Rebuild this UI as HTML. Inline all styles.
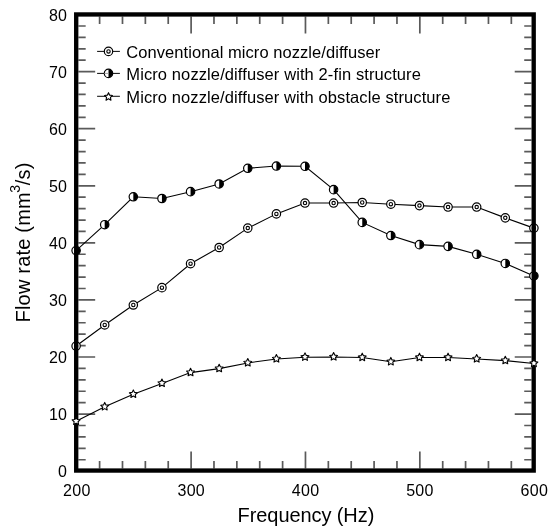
<!DOCTYPE html><html><head><meta charset="utf-8"><style>html,body{margin:0;padding:0;background:#fff;}svg{display:block;filter:grayscale(1);}text{font-family:"Liberation Sans",sans-serif;fill:#000;}</style></head><body>
<svg width="550" height="531" viewBox="0 0 550 531">
<rect width="550" height="531" fill="#fff"/>
<path d="M78.38,459.74h7.3 M531.53,459.74h-7.3 M78.38,448.32h7.3 M531.53,448.32h-7.3 M78.38,436.91h7.3 M531.53,436.91h-7.3 M78.38,425.49h7.3 M531.53,425.49h-7.3 M78.38,414.08h16.8 M531.53,414.08h-16.8 M78.38,402.66h7.3 M531.53,402.66h-7.3 M78.38,391.25h7.3 M531.53,391.25h-7.3 M78.38,379.83h7.3 M531.53,379.83h-7.3 M78.38,368.42h7.3 M531.53,368.42h-7.3 M78.38,357.00h16.8 M531.53,357.00h-16.8 M78.38,345.59h7.3 M531.53,345.59h-7.3 M78.38,334.17h7.3 M531.53,334.17h-7.3 M78.38,322.76h7.3 M531.53,322.76h-7.3 M78.38,311.35h7.3 M531.53,311.35h-7.3 M78.38,299.93h16.8 M531.53,299.93h-16.8 M78.38,288.52h7.3 M531.53,288.52h-7.3 M78.38,277.10h7.3 M531.53,277.10h-7.3 M78.38,265.69h7.3 M531.53,265.69h-7.3 M78.38,254.27h7.3 M531.53,254.27h-7.3 M78.38,242.86h16.8 M531.53,242.86h-16.8 M78.38,231.44h7.3 M531.53,231.44h-7.3 M78.38,220.03h7.3 M531.53,220.03h-7.3 M78.38,208.61h7.3 M531.53,208.61h-7.3 M78.38,197.20h7.3 M531.53,197.20h-7.3 M78.38,185.78h16.8 M531.53,185.78h-16.8 M78.38,174.37h7.3 M531.53,174.37h-7.3 M78.38,162.96h7.3 M531.53,162.96h-7.3 M78.38,151.54h7.3 M531.53,151.54h-7.3 M78.38,140.13h7.3 M531.53,140.13h-7.3 M78.38,128.71h16.8 M531.53,128.71h-16.8 M78.38,117.30h7.3 M531.53,117.30h-7.3 M78.38,105.88h7.3 M531.53,105.88h-7.3 M78.38,94.47h7.3 M531.53,94.47h-7.3 M78.38,83.05h7.3 M531.53,83.05h-7.3 M78.38,71.64h16.8 M531.53,71.64h-16.8 M78.38,60.22h7.3 M531.53,60.22h-7.3 M78.38,48.81h7.3 M531.53,48.81h-7.3 M78.38,37.40h7.3 M531.53,37.40h-7.3 M78.38,25.98h7.3 M531.53,25.98h-7.3 M99.61,468.38v-7.3 M99.61,16.62v7.3 M122.49,468.38v-7.3 M122.49,16.62v7.3 M145.36,468.38v-7.3 M145.36,16.62v7.3 M168.23,468.38v-7.3 M168.23,16.62v7.3 M191.11,468.38v-16.8 M191.11,16.62v16.8 M213.98,468.38v-7.3 M213.98,16.62v7.3 M236.85,468.38v-7.3 M236.85,16.62v7.3 M259.73,468.38v-7.3 M259.73,16.62v7.3 M282.60,468.38v-7.3 M282.60,16.62v7.3 M305.47,468.38v-16.8 M305.47,16.62v16.8 M328.35,468.38v-7.3 M328.35,16.62v7.3 M351.22,468.38v-7.3 M351.22,16.62v7.3 M374.09,468.38v-7.3 M374.09,16.62v7.3 M396.96,468.38v-7.3 M396.96,16.62v7.3 M419.84,468.38v-16.8 M419.84,16.62v16.8 M442.71,468.38v-7.3 M442.71,16.62v7.3 M465.58,468.38v-7.3 M465.58,16.62v7.3 M488.46,468.38v-7.3 M488.46,16.62v7.3 M511.33,468.38v-7.3 M511.33,16.62v7.3" stroke="#5a5a5a" stroke-width="1.7" fill="none"/>
<polyline points="76.10,346.03 104.71,324.95 133.32,305.02 161.94,287.64 190.55,263.72 219.16,247.49 247.78,228.12 276.39,213.88 305.00,203.06 333.61,203.06 362.23,202.49 390.84,204.20 419.45,205.62 448.06,207.04 476.68,207.04 505.29,217.87 533.90,228.12" fill="none" stroke="#000" stroke-width="1.1"/>
<polyline points="76.10,250.62 104.71,224.70 133.32,196.79 161.94,198.50 190.55,191.67 219.16,183.98 247.78,168.31 276.39,166.03 305.00,166.32 333.61,189.67 362.23,222.42 390.84,235.52 419.45,244.64 448.06,246.35 476.68,254.32 505.29,263.44 533.90,275.97" fill="none" stroke="#000" stroke-width="1.1"/>
<polyline points="76.10,421.30 104.71,406.77 133.32,394.24 161.94,383.42 190.55,372.60 219.16,368.61 247.78,362.92 276.39,358.93 305.00,357.22 333.61,356.93 362.23,357.50 390.84,361.78 419.45,357.50 448.06,357.50 476.68,358.93 505.29,360.64 533.90,363.48" fill="none" stroke="#000" stroke-width="1.1"/>
<circle cx="76.10" cy="346.03" r="4.2" fill="#fff" stroke="#000" stroke-width="1.2"/><circle cx="76.10" cy="346.03" r="1.7" fill="#fff" stroke="#000" stroke-width="1.1"/>
<circle cx="104.71" cy="324.95" r="4.2" fill="#fff" stroke="#000" stroke-width="1.2"/><circle cx="104.71" cy="324.95" r="1.7" fill="#fff" stroke="#000" stroke-width="1.1"/>
<circle cx="133.32" cy="305.02" r="4.2" fill="#fff" stroke="#000" stroke-width="1.2"/><circle cx="133.32" cy="305.02" r="1.7" fill="#fff" stroke="#000" stroke-width="1.1"/>
<circle cx="161.94" cy="287.64" r="4.2" fill="#fff" stroke="#000" stroke-width="1.2"/><circle cx="161.94" cy="287.64" r="1.7" fill="#fff" stroke="#000" stroke-width="1.1"/>
<circle cx="190.55" cy="263.72" r="4.2" fill="#fff" stroke="#000" stroke-width="1.2"/><circle cx="190.55" cy="263.72" r="1.7" fill="#fff" stroke="#000" stroke-width="1.1"/>
<circle cx="219.16" cy="247.49" r="4.2" fill="#fff" stroke="#000" stroke-width="1.2"/><circle cx="219.16" cy="247.49" r="1.7" fill="#fff" stroke="#000" stroke-width="1.1"/>
<circle cx="247.78" cy="228.12" r="4.2" fill="#fff" stroke="#000" stroke-width="1.2"/><circle cx="247.78" cy="228.12" r="1.7" fill="#fff" stroke="#000" stroke-width="1.1"/>
<circle cx="276.39" cy="213.88" r="4.2" fill="#fff" stroke="#000" stroke-width="1.2"/><circle cx="276.39" cy="213.88" r="1.7" fill="#fff" stroke="#000" stroke-width="1.1"/>
<circle cx="305.00" cy="203.06" r="4.2" fill="#fff" stroke="#000" stroke-width="1.2"/><circle cx="305.00" cy="203.06" r="1.7" fill="#fff" stroke="#000" stroke-width="1.1"/>
<circle cx="333.61" cy="203.06" r="4.2" fill="#fff" stroke="#000" stroke-width="1.2"/><circle cx="333.61" cy="203.06" r="1.7" fill="#fff" stroke="#000" stroke-width="1.1"/>
<circle cx="362.23" cy="202.49" r="4.2" fill="#fff" stroke="#000" stroke-width="1.2"/><circle cx="362.23" cy="202.49" r="1.7" fill="#fff" stroke="#000" stroke-width="1.1"/>
<circle cx="390.84" cy="204.20" r="4.2" fill="#fff" stroke="#000" stroke-width="1.2"/><circle cx="390.84" cy="204.20" r="1.7" fill="#fff" stroke="#000" stroke-width="1.1"/>
<circle cx="419.45" cy="205.62" r="4.2" fill="#fff" stroke="#000" stroke-width="1.2"/><circle cx="419.45" cy="205.62" r="1.7" fill="#fff" stroke="#000" stroke-width="1.1"/>
<circle cx="448.06" cy="207.04" r="4.2" fill="#fff" stroke="#000" stroke-width="1.2"/><circle cx="448.06" cy="207.04" r="1.7" fill="#fff" stroke="#000" stroke-width="1.1"/>
<circle cx="476.68" cy="207.04" r="4.2" fill="#fff" stroke="#000" stroke-width="1.2"/><circle cx="476.68" cy="207.04" r="1.7" fill="#fff" stroke="#000" stroke-width="1.1"/>
<circle cx="505.29" cy="217.87" r="4.2" fill="#fff" stroke="#000" stroke-width="1.2"/><circle cx="505.29" cy="217.87" r="1.7" fill="#fff" stroke="#000" stroke-width="1.1"/>
<circle cx="533.90" cy="228.12" r="4.2" fill="#fff" stroke="#000" stroke-width="1.2"/><circle cx="533.90" cy="228.12" r="1.7" fill="#fff" stroke="#000" stroke-width="1.1"/>
<circle cx="76.10" cy="250.62" r="4.2" fill="#fff" stroke="#000" stroke-width="1.2"/><path d="M76.10,246.42 A4.2,4.2 0 0 1 76.10,254.82 Z" fill="#000"/>
<circle cx="104.71" cy="224.70" r="4.2" fill="#fff" stroke="#000" stroke-width="1.2"/><path d="M104.71,220.50 A4.2,4.2 0 0 1 104.71,228.90 Z" fill="#000"/>
<circle cx="133.32" cy="196.79" r="4.2" fill="#fff" stroke="#000" stroke-width="1.2"/><path d="M133.32,192.59 A4.2,4.2 0 0 1 133.32,200.99 Z" fill="#000"/>
<circle cx="161.94" cy="198.50" r="4.2" fill="#fff" stroke="#000" stroke-width="1.2"/><path d="M161.94,194.30 A4.2,4.2 0 0 1 161.94,202.70 Z" fill="#000"/>
<circle cx="190.55" cy="191.67" r="4.2" fill="#fff" stroke="#000" stroke-width="1.2"/><path d="M190.55,187.47 A4.2,4.2 0 0 1 190.55,195.87 Z" fill="#000"/>
<circle cx="219.16" cy="183.98" r="4.2" fill="#fff" stroke="#000" stroke-width="1.2"/><path d="M219.16,179.78 A4.2,4.2 0 0 1 219.16,188.18 Z" fill="#000"/>
<circle cx="247.78" cy="168.31" r="4.2" fill="#fff" stroke="#000" stroke-width="1.2"/><path d="M247.78,164.11 A4.2,4.2 0 0 1 247.78,172.51 Z" fill="#000"/>
<circle cx="276.39" cy="166.03" r="4.2" fill="#fff" stroke="#000" stroke-width="1.2"/><path d="M276.39,161.83 A4.2,4.2 0 0 1 276.39,170.23 Z" fill="#000"/>
<circle cx="305.00" cy="166.32" r="4.2" fill="#fff" stroke="#000" stroke-width="1.2"/><path d="M305.00,162.12 A4.2,4.2 0 0 1 305.00,170.52 Z" fill="#000"/>
<circle cx="333.61" cy="189.67" r="4.2" fill="#fff" stroke="#000" stroke-width="1.2"/><path d="M333.61,185.47 A4.2,4.2 0 0 1 333.61,193.87 Z" fill="#000"/>
<circle cx="362.23" cy="222.42" r="4.2" fill="#fff" stroke="#000" stroke-width="1.2"/><path d="M362.23,218.22 A4.2,4.2 0 0 1 362.23,226.62 Z" fill="#000"/>
<circle cx="390.84" cy="235.52" r="4.2" fill="#fff" stroke="#000" stroke-width="1.2"/><path d="M390.84,231.32 A4.2,4.2 0 0 1 390.84,239.72 Z" fill="#000"/>
<circle cx="419.45" cy="244.64" r="4.2" fill="#fff" stroke="#000" stroke-width="1.2"/><path d="M419.45,240.44 A4.2,4.2 0 0 1 419.45,248.84 Z" fill="#000"/>
<circle cx="448.06" cy="246.35" r="4.2" fill="#fff" stroke="#000" stroke-width="1.2"/><path d="M448.06,242.15 A4.2,4.2 0 0 1 448.06,250.55 Z" fill="#000"/>
<circle cx="476.68" cy="254.32" r="4.2" fill="#fff" stroke="#000" stroke-width="1.2"/><path d="M476.68,250.12 A4.2,4.2 0 0 1 476.68,258.52 Z" fill="#000"/>
<circle cx="505.29" cy="263.44" r="4.2" fill="#fff" stroke="#000" stroke-width="1.2"/><path d="M505.29,259.24 A4.2,4.2 0 0 1 505.29,267.64 Z" fill="#000"/>
<circle cx="533.90" cy="275.97" r="4.2" fill="#fff" stroke="#000" stroke-width="1.2"/><path d="M533.90,271.77 A4.2,4.2 0 0 1 533.90,280.17 Z" fill="#000"/>
<rect x="76.20" y="14.45" width="457.50" height="456.10" fill="none" stroke="#000" stroke-width="4.35"/>
<polygon points="76.10,416.95 77.30,419.44 80.05,419.82 78.05,421.73 78.54,424.46 76.10,423.15 73.66,424.46 74.15,421.73 72.15,419.82 74.90,419.44" fill="#fff" stroke="#000" stroke-width="1.1" stroke-linejoin="round"/>
<polygon points="104.71,402.42 105.92,404.92 108.66,405.29 106.66,407.21 107.15,409.93 104.71,408.62 102.27,409.93 102.76,407.21 100.77,405.29 103.51,404.92" fill="#fff" stroke="#000" stroke-width="1.1" stroke-linejoin="round"/>
<polygon points="133.32,389.89 134.53,392.38 137.27,392.76 135.27,394.68 135.76,397.40 133.32,396.09 130.89,397.40 131.38,394.68 129.38,392.76 132.12,392.38" fill="#fff" stroke="#000" stroke-width="1.1" stroke-linejoin="round"/>
<polygon points="161.94,379.07 163.14,381.56 165.88,381.94 163.89,383.85 164.38,386.58 161.94,385.27 159.50,386.58 159.99,383.85 157.99,381.94 160.73,381.56" fill="#fff" stroke="#000" stroke-width="1.1" stroke-linejoin="round"/>
<polygon points="190.55,368.25 191.75,370.74 194.50,371.12 192.50,373.03 192.99,375.76 190.55,374.45 188.11,375.76 188.60,373.03 186.60,371.12 189.35,370.74" fill="#fff" stroke="#000" stroke-width="1.1" stroke-linejoin="round"/>
<polygon points="219.16,364.26 220.37,366.75 223.11,367.13 221.11,369.04 221.60,371.77 219.16,370.46 216.72,371.77 217.21,369.04 215.22,367.13 217.96,366.75" fill="#fff" stroke="#000" stroke-width="1.1" stroke-linejoin="round"/>
<polygon points="247.78,358.57 248.98,361.06 251.72,361.43 249.72,363.35 250.21,366.07 247.78,364.77 245.34,366.07 245.83,363.35 243.83,361.43 246.57,361.06" fill="#fff" stroke="#000" stroke-width="1.1" stroke-linejoin="round"/>
<polygon points="276.39,354.58 277.59,357.07 280.33,357.45 278.34,359.36 278.83,362.09 276.39,360.78 273.95,362.09 274.44,359.36 272.44,357.45 275.18,357.07" fill="#fff" stroke="#000" stroke-width="1.1" stroke-linejoin="round"/>
<polygon points="305.00,352.87 306.20,355.36 308.95,355.74 306.95,357.65 307.44,360.38 305.00,359.07 302.56,360.38 303.05,357.65 301.05,355.74 303.80,355.36" fill="#fff" stroke="#000" stroke-width="1.1" stroke-linejoin="round"/>
<polygon points="333.61,352.58 334.82,355.08 337.56,355.45 335.56,357.37 336.05,360.09 333.61,358.78 331.17,360.09 331.66,357.37 329.67,355.45 332.41,355.08" fill="#fff" stroke="#000" stroke-width="1.1" stroke-linejoin="round"/>
<polygon points="362.23,353.15 363.43,355.65 366.17,356.02 364.17,357.94 364.66,360.66 362.23,359.35 359.79,360.66 360.28,357.94 358.28,356.02 361.02,355.65" fill="#fff" stroke="#000" stroke-width="1.1" stroke-linejoin="round"/>
<polygon points="390.84,357.43 392.04,359.92 394.78,360.29 392.79,362.21 393.28,364.93 390.84,363.63 388.40,364.93 388.89,362.21 386.89,360.29 389.63,359.92" fill="#fff" stroke="#000" stroke-width="1.1" stroke-linejoin="round"/>
<polygon points="419.45,353.15 420.65,355.65 423.40,356.02 421.40,357.94 421.89,360.66 419.45,359.35 417.01,360.66 417.50,357.94 415.50,356.02 418.25,355.65" fill="#fff" stroke="#000" stroke-width="1.1" stroke-linejoin="round"/>
<polygon points="448.06,353.15 449.27,355.65 452.01,356.02 450.01,357.94 450.50,360.66 448.06,359.35 445.62,360.66 446.11,357.94 444.12,356.02 446.86,355.65" fill="#fff" stroke="#000" stroke-width="1.1" stroke-linejoin="round"/>
<polygon points="476.68,354.58 477.88,357.07 480.62,357.45 478.62,359.36 479.11,362.09 476.68,360.78 474.24,362.09 474.73,359.36 472.73,357.45 475.47,357.07" fill="#fff" stroke="#000" stroke-width="1.1" stroke-linejoin="round"/>
<polygon points="505.29,356.29 506.49,358.78 509.23,359.15 507.24,361.07 507.73,363.79 505.29,362.49 502.85,363.79 503.34,361.07 501.34,359.15 504.08,358.78" fill="#fff" stroke="#000" stroke-width="1.1" stroke-linejoin="round"/>
<polygon points="533.90,359.13 535.10,361.63 537.85,362.00 535.85,363.92 536.34,366.64 533.90,365.33 531.46,366.64 531.95,363.92 529.95,362.00 532.70,361.63" fill="#fff" stroke="#000" stroke-width="1.1" stroke-linejoin="round"/>
<text x="66.8" y="476.75" font-size="16" text-anchor="end">0</text>
<text x="66.8" y="419.81" font-size="16" text-anchor="end">10</text>
<text x="66.8" y="362.87" font-size="16" text-anchor="end">20</text>
<text x="66.8" y="305.94" font-size="16" text-anchor="end">30</text>
<text x="66.8" y="249.00" font-size="16" text-anchor="end">40</text>
<text x="66.8" y="192.06" font-size="16" text-anchor="end">50</text>
<text x="66.8" y="135.12" font-size="16" text-anchor="end">60</text>
<text x="66.8" y="78.18" font-size="16" text-anchor="end">70</text>
<text x="66.8" y="21.25" font-size="16" text-anchor="end">80</text>
<text x="76.89" y="495.6" font-size="16" letter-spacing="0.3" text-anchor="middle">200</text>
<text x="191.26" y="495.6" font-size="16" letter-spacing="0.3" text-anchor="middle">300</text>
<text x="305.62" y="495.6" font-size="16" letter-spacing="0.3" text-anchor="middle">400</text>
<text x="419.99" y="495.6" font-size="16" letter-spacing="0.3" text-anchor="middle">500</text>
<text x="534.35" y="495.6" font-size="16" letter-spacing="0.3" text-anchor="middle">600</text>
<text transform="translate(237.6,521.8) scale(1,1.035)" x="0" y="0" font-size="20" textLength="136.7" lengthAdjust="spacing">Frequency (Hz)</text>
<text transform="translate(29.8,242.5) rotate(-90)" font-size="20" letter-spacing="0.2" text-anchor="middle">Flow rate (mm<tspan font-size="14" dx="-0.6" dy="-9.5">3</tspan><tspan dx="-0.6" dy="9.5">/s)</tspan></text>
<line x1="97.1" y1="51.4" x2="119.9" y2="51.4" stroke="#111" stroke-width="1.05"/>
<circle cx="108.50" cy="51.40" r="4.2" fill="#fff" stroke="#000" stroke-width="1.2"/><circle cx="108.50" cy="51.40" r="1.7" fill="#fff" stroke="#000" stroke-width="1.1"/>
<text x="126.3" y="57.50" font-size="16.5" textLength="253.9" lengthAdjust="spacing">Conventional micro nozzle/diffuser</text>
<line x1="97.1" y1="73.4" x2="119.9" y2="73.4" stroke="#111" stroke-width="1.05"/>
<circle cx="108.50" cy="73.40" r="4.2" fill="#fff" stroke="#000" stroke-width="1.2"/><path d="M108.50,69.20 A4.2,4.2 0 0 1 108.50,77.60 Z" fill="#000"/>
<line x1="104.3" y1="73.4" x2="108.5" y2="73.4" stroke="#999" stroke-width="0.9"/>
<text x="126.3" y="80.00" font-size="16.5" textLength="294.6" lengthAdjust="spacing">Micro nozzle/diffuser with 2-fin structure</text>
<line x1="97.1" y1="96.3" x2="119.9" y2="96.3" stroke="#111" stroke-width="1.05"/>
<polygon points="108.50,92.65 109.70,95.14 112.45,95.52 110.45,97.43 110.94,100.16 108.50,98.85 106.06,100.16 106.55,97.43 104.55,95.52 107.30,95.14" fill="#fff" stroke="#000" stroke-width="1.1" stroke-linejoin="round"/>
<text x="126.3" y="102.80" font-size="16.5" textLength="324.1" lengthAdjust="spacing">Micro nozzle/diffuser with obstacle structure</text>
</svg></body></html>
